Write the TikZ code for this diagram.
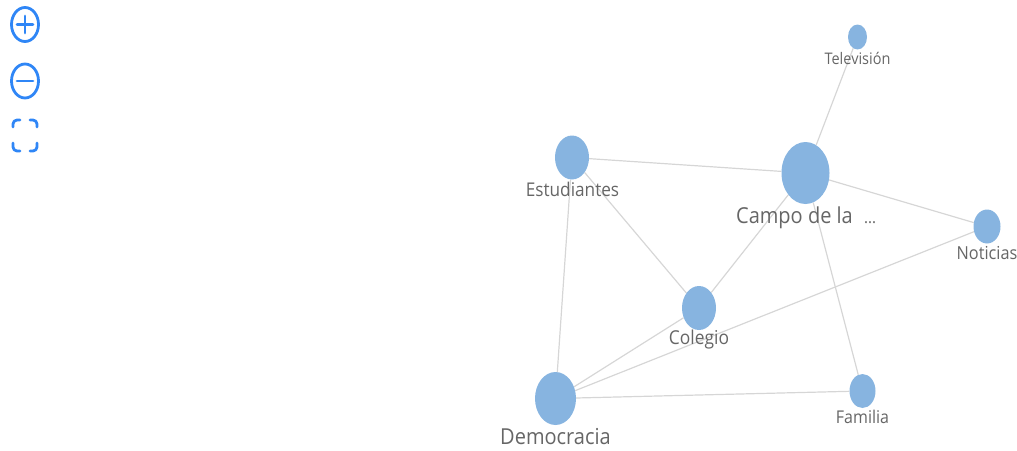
\documentclass[tikz,border=0pt]{standalone}
\usepackage{fontspec}
\setmainfont{Open Sans}
\usetikzlibrary{shapes.geometric,backgrounds}
\definecolor{nodeblue}{HTML}{87B4E0}
\definecolor{iconblue}{HTML}{2F86F6}
\definecolor{edgegray}{HTML}{D6D6D6}
\definecolor{textgray}{HTML}{666666}
\begin{document}
\begin{tikzpicture}[x=1pt, y=-1pt, line cap=round, line join=round]
	\tikzset{
		topic/.style={ellipse, fill=nodeblue, inner sep=0pt},
		topic label/.style={text=textgray, inner sep=0pt, font=\fontsize{#1}{#1}\selectfont, yscale=1.1},
		edge/.style={draw=edgegray, line width=1.2pt},
		icon/.style={draw=iconblue, line width=2.8pt}
	}
	\useasboundingbox (0,0) rectangle (1017,450);
	% topics
	\node[topic, minimum width=19pt, minimum height=25pt] (tele) at (857.5,37) {};
	\node[topic, minimum width=48pt, minimum height=62pt] (campo) at (805.5,173) {};
	\node[topic, minimum width=34pt, minimum height=44pt] (estu) at (572,157.5) {};
	\node[topic, minimum width=27pt, minimum height=34pt] (noti) at (987,226.5) {};
	\node[topic, minimum width=34pt, minimum height=44pt] (cole) at (699,308) {};
	\node[topic, minimum width=41pt, minimum height=53pt] (demo) at (555.5,398.5) {};
	\node[topic, minimum width=26pt, minimum height=34pt] (fami) at (862.5,391) {};
	% labels
	\node[topic label=14.5] (ltele) at (857.5,58) {Televisión};
	\node[topic label=17.2] (lestu) at (572.5,189) {Estudiantes};
	\node[topic label=20] (lcampo) at (794.5,218) {Campo de la};
	\node[topic label=15, anchor=west] (ldots) at (864,223) {...};
	\node[topic label=16.3] (lnoti) at (987,253) {Noticias};
	\node[topic label=17.4] (lcole) at (699,340) {Colegio};
	\node[topic label=16] (lfami) at (862.5,417) {Familia};
	\node[topic label=20] (ldemo) at (555.5,437) {Democracia};
	% links
	\begin{scope}[on background layer]
		\foreach\a/\b in {tele/campo,estu/campo,campo/noti,campo/cole,campo/fami,estu/cole,estu/demo,cole/demo,noti/demo,demo/fami}
			\draw[edge] (\a)--(\b);
	\end{scope}
	% zoom buttons
	\draw[icon] (25,24.5) ellipse (13.5pt and 17pt);
	\draw[icon] (25,16)--(25,33) (17,24.5)--(33,24.5);
	\draw[icon] (25,81) ellipse (13.5pt and 17pt);
	\draw[icon] (17,81)--(33,81);
	\draw[icon] (13,127)--(13,124) arc[start angle=180, end angle=270, x radius=4, y radius=4]--(20,120)
		(30,120)--(33,120) arc[start angle=270, end angle=360, x radius=4, y radius=4]--(37,127)
		(37,143)--(37,147) arc[start angle=0, end angle=90, x radius=4, y radius=4]--(30,151)
		(20,151)--(17,151) arc[start angle=90, end angle=180, x radius=4, y radius=4]--(13,143);
\end{tikzpicture}
\end{document}
